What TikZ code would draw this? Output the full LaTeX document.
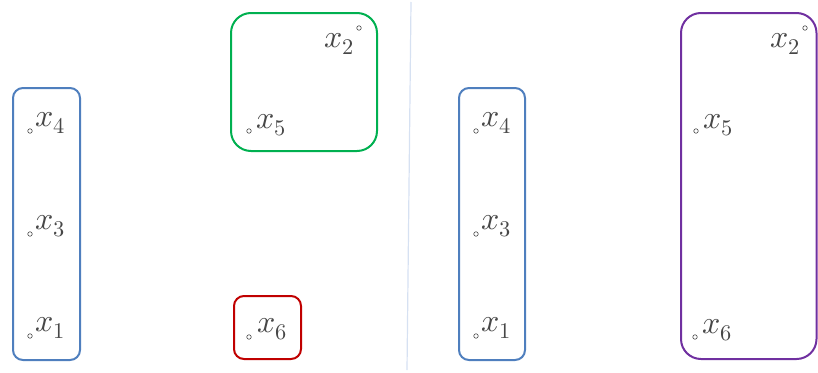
\documentclass[tikz,border=0pt]{standalone}
\usepackage{unicode-math}
\setmathfont{Latin Modern Math}
\usepackage{xcolor}
\definecolor{boxblue}{HTML}{4F7FBE}
\definecolor{boxgreen}{HTML}{00B050}
\definecolor{boxred}{HTML}{C00000}
\definecolor{boxpurple}{HTML}{7030A0}
\definecolor{divcol}{HTML}{D6E1F2}
\definecolor{txt}{HTML}{474747}
\begin{document}
\begin{tikzpicture}[x=1pt,y=-1pt,
  box/.style={draw, line width=2pt, rounded corners=#1},
  lbl/.style={anchor=base west, inner sep=0pt, text=txt, font=\fontsize{32}{36}\selectfont},
  pt/.style={circle, draw=txt, line width=0.6pt, minimum size=4.5pt, inner sep=0pt}]
\useasboundingbox (0,0) rectangle (818,372);
% divider
\coordinate (d1) at (411,2);
\coordinate (d2) at (407,370);
\draw[divcol, line width=1.2pt] (d1) -- (d2);
% boxes left
\draw[box=10pt, boxblue] (13,88) rectangle (80,360);
\draw[box=20pt, boxgreen] (231,13) rectangle (377,151);
\draw[box=10pt, boxred] (234,296) rectangle (301,359);
% boxes right
\draw[box=10pt, boxblue] (459,88) rectangle (525,360);
\draw[box=20pt, boxpurple] (681,13) rectangle (816.5,359);
% left labels
\node[pt] (p4) at (30,131) {};
\node[lbl] (l4) at (35,126) {$x_4$};
\node[pt] (p3) at (30,234) {};
\node[lbl] (l3) at (35,229) {$x_3$};
\node[pt] (p1) at (30,336) {};
\node[lbl] (l1) at (35,331) {$x_1$};
\node[pt] (p5) at (249,131) {};
\node[lbl] (l5) at (256,128) {$x_5$};
\node[pt] (p2) at (359,28) {};
\node[lbl] (l2) at (324,47) {$x_2$};
\node[pt] (p6) at (249,337) {};
\node[lbl] (l6) at (257,332) {$x_6$};
% right labels
\node[pt] (q4) at (476,131) {};
\node[lbl] (m4) at (481,126) {$x_4$};
\node[pt] (q3) at (476,234) {};
\node[lbl] (m3) at (481,229) {$x_3$};
\node[pt] (q1) at (476,336) {};
\node[lbl] (m1) at (481,331) {$x_1$};
\node[pt] (q5) at (696,131) {};
\node[lbl] (m5) at (703,128) {$x_5$};
\node[pt] (q2) at (805,28) {};
\node[lbl] (m2) at (770,47) {$x_2$};
\node[pt] (q6) at (695,337) {};
\node[lbl] (m6) at (702,333) {$x_6$};
\end{tikzpicture}
\end{document}
